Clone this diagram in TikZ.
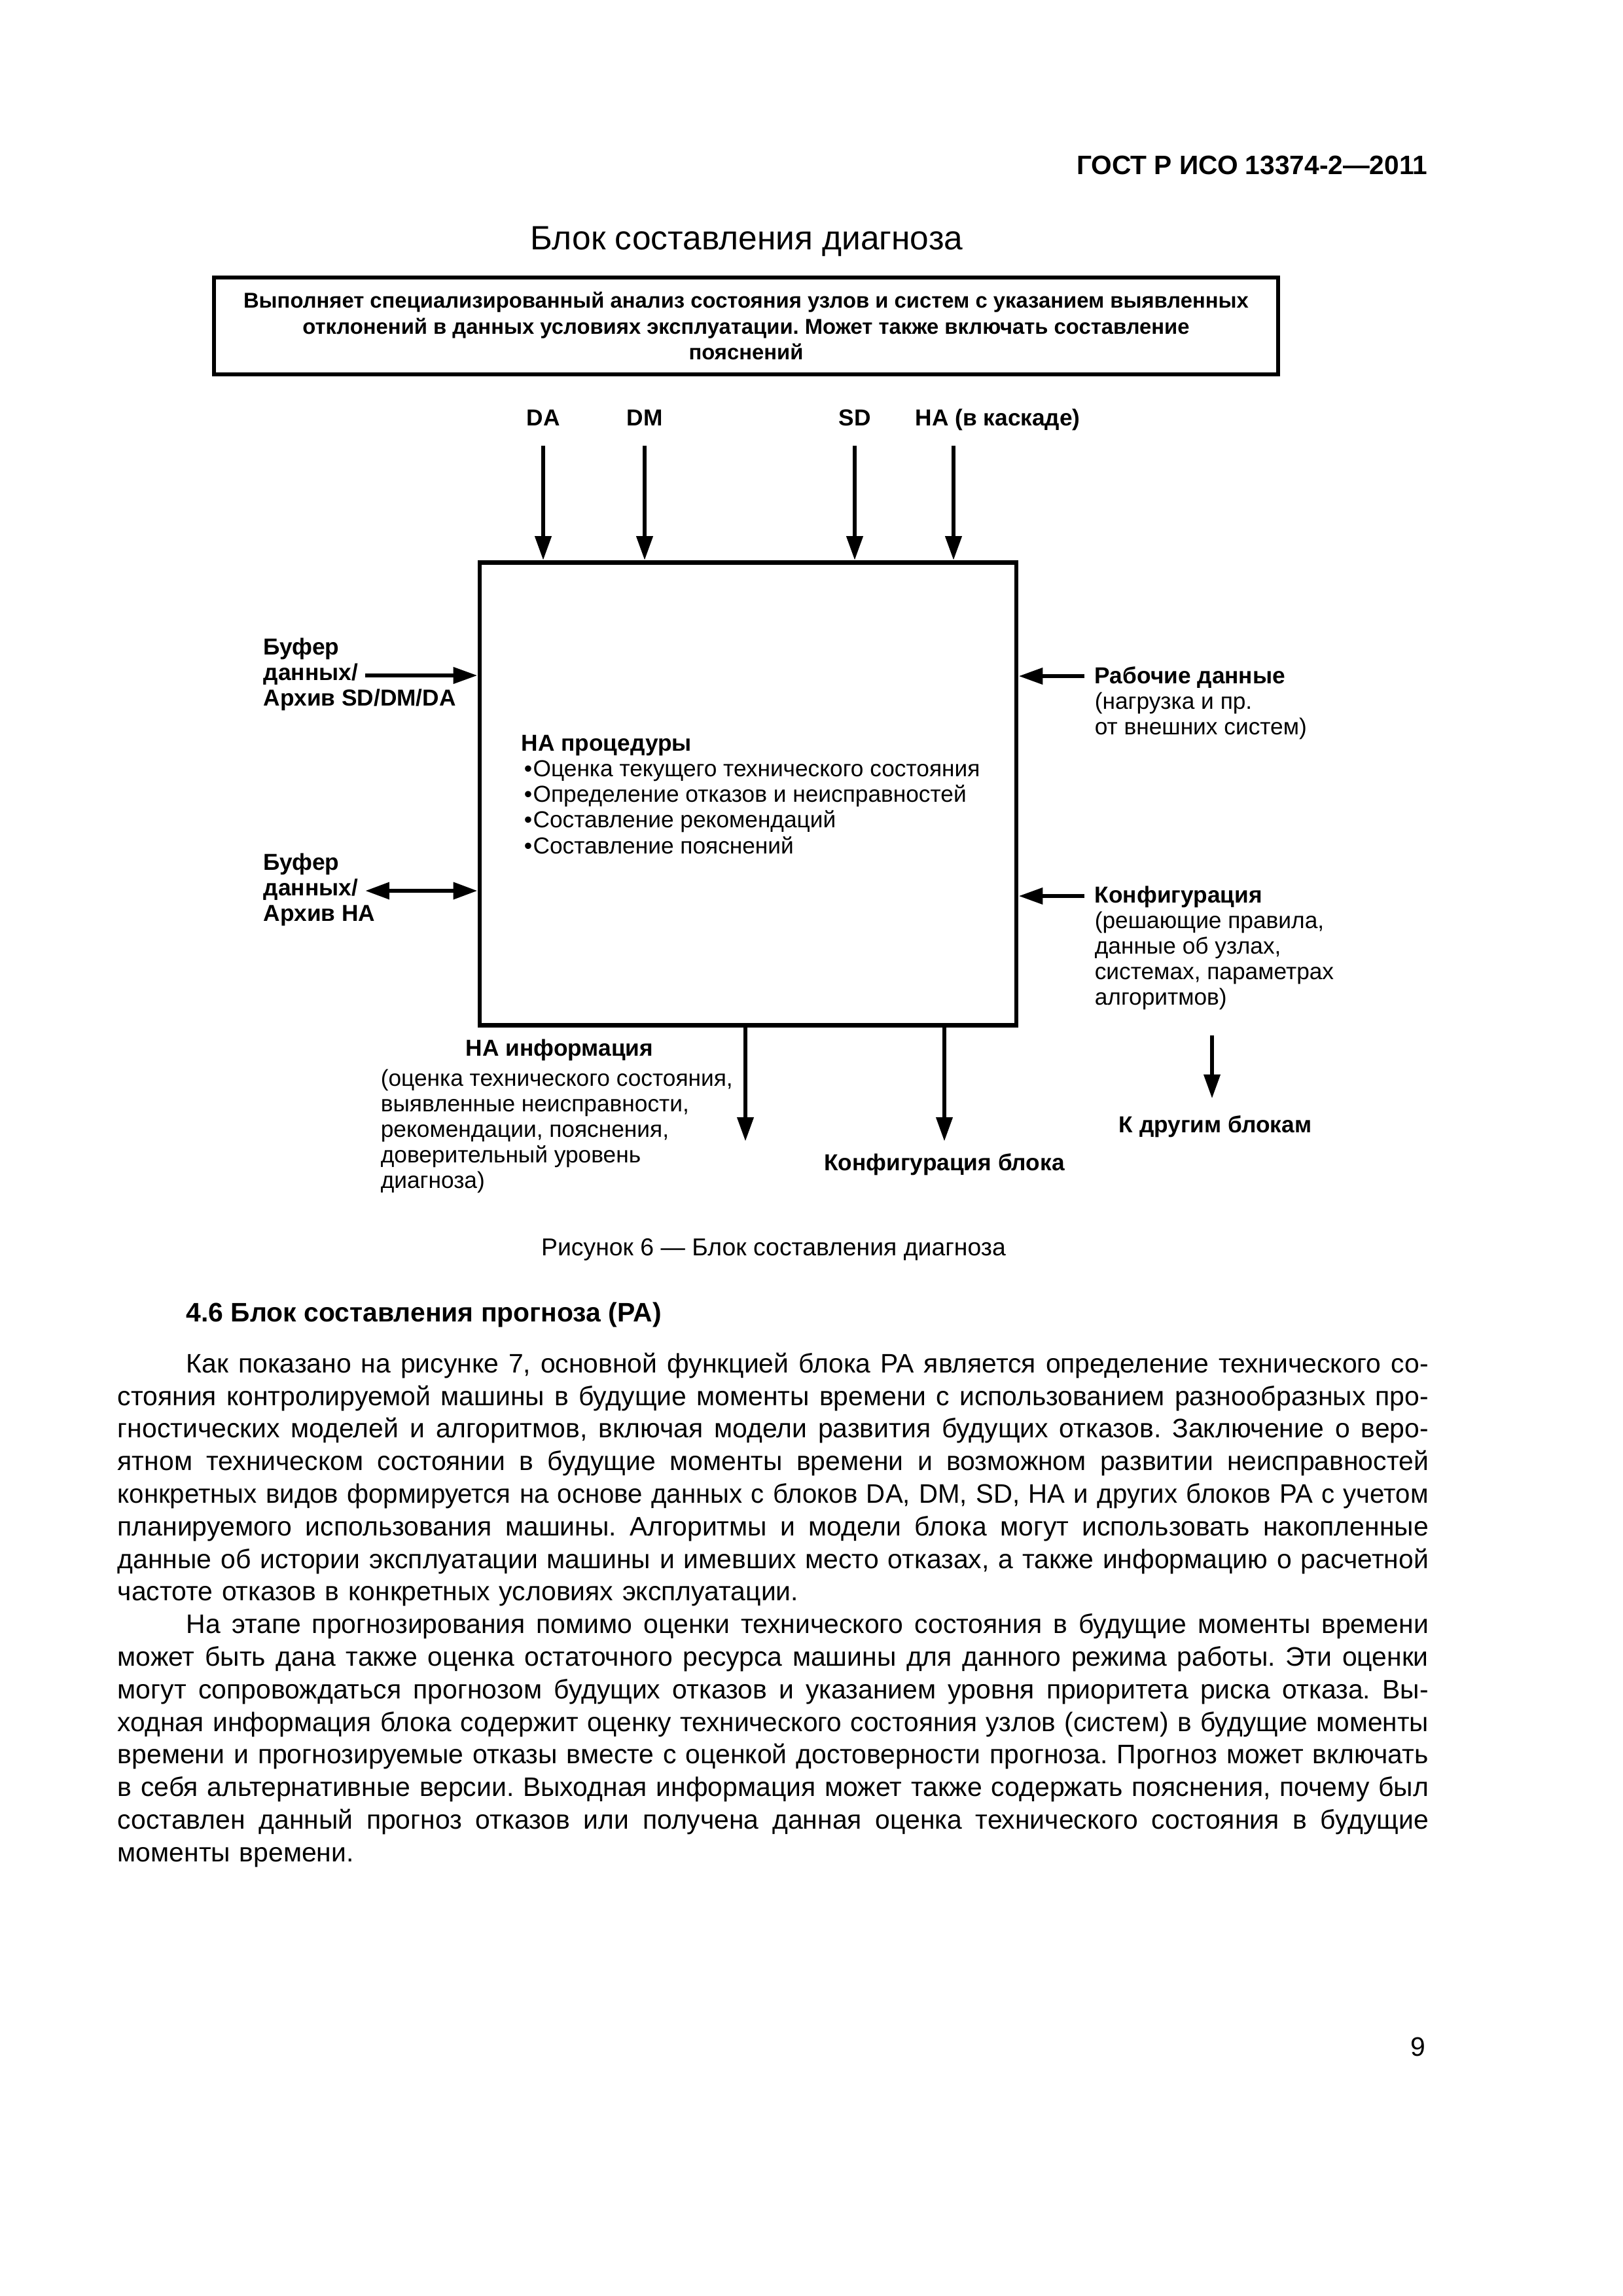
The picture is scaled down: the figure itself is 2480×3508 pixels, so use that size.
\documentclass[tikz,border=0pt]{standalone}
\usepackage{fontspec}
\usepackage{graphicx}
\setmainfont{Liberation Sans}
\usetikzlibrary{arrows.meta, positioning, calc}
\newlength\px
\setlength\px{0.084677mm}
\newsavebox\linebox
% justified line of the page text, squeezed when too long
\newcommand{\fitline}[2]{\sbox\linebox{#2}%
  \ifdim\wd\linebox>#1\resizebox{#1}{\height}{\usebox\linebox}%
  \else\hbox to #1{\spaceskip=\fontdimen2\font plus 1fil\relax #2}\fi}
\newcommand{\jline}[1]{\fitline{\linewidth}{#1}\par}
\newcommand{\jfirst}[1]{\hspace*{105\px}\fitline{\dimexpr\linewidth-105\px\relax}{#1}\par}
\newcommand{\jlast}[1]{#1\par}

\tikzset{
  lbl/.style={inner sep=0pt, font=\fontsize{8.5}{9.4}\selectfont\bfseries},
  note/.style={inner sep=0pt, align=left, font=\fontsize{8.5}{9.4}\selectfont},
  arr/.style={line width=1.6pt, -{Triangle[length=8.9pt, width=5.8pt]}},
  arrboth/.style={line width=1.6pt, {Triangle[length=8.9pt, width=6pt]}-{Triangle[length=8.9pt, width=6pt]}},
  frame/.style={draw, line width=1.6pt},
}

\begin{document}
\frenchspacing
\begin{tikzpicture}[x=0.084677mm, y=-0.084677mm]
  \fill[white] (0,0) rectangle (2480,3508);
  \useasboundingbox (0,0) rectangle (2480,3508);

  % page head
  \node[anchor=base east, inner sep=0pt, font=\fontsize{9.8}{12}\selectfont\bfseries] (gost) at (2182,266) {ГОСТ Р ИСО 13374-2—2011};
  \node[inner sep=0pt, font=\fontsize{12.4}{14}\selectfont] (title) at (1141,369) {Блок составления диагноза};

  % description
  \node[frame, minimum width=1626\px, minimum height=148\px, align=center, font=\fontsize{7.9}{9.6}\selectfont\bfseries] (desc) at (1140,498)
    {Выполняет специализированный анализ состояния узлов и систем с указанием выявленных\\отклонений в данных условиях эксплуатации. Может также включать составление\\пояснений};

  % the block
  \node[frame, minimum width=820\px, minimum height=707\px] (block) at (1143,1213) {};
  \node[note, anchor=west] (proc) at (796,1214)
    {\textbf{НА процедуры}\\\kern1pt•\kern0.3pt Оценка текущего технического состояния\\\kern1pt•\kern0.3pt Определение отказов и неисправностей\\\kern1pt•\kern0.3pt Составление рекомендаций\\\kern1pt•\kern0.3pt Составление пояснений};

  % inputs from above
  \node[lbl, anchor=base] (da) at (830,650) {DA};
  \node[lbl, anchor=base] (dm) at (985,650) {DM};
  \node[lbl, anchor=base] (sd) at (1306,650) {SD};
  \node[lbl, anchor=base west] (hac) at (1398,650) {НА (в каскаде)};
  \path (hac.base west) ++(59,31) coordinate (hacin);
  \draw[arr] (da.base) ++(0,31) -- (da |- block.north);
  \draw[arr] (dm.base) ++(0,31) -- (dm |- block.north);
  \draw[arr] (sd.base) ++(0,31) -- (sd |- block.north);
  \draw[arr] (hacin) -- (hacin |- block.north);

  % left side
  \node[lbl, align=left, anchor=west] (buf1) at (402,1030) {Буфер\\данных/\\Архив SD/DM/DA};
  \node[lbl, align=left, anchor=west] (buf2) at (402,1359) {Буфер\\данных/\\Архив НА};
  \coordinate (buf1out) at (558,1032);
  \coordinate (buf2out) at (558,1361);
  \draw[arr] (buf1out) -- (buf1out -| block.west);
  \draw[arrboth] (buf2out) -- (buf2out -| block.west);

  % right side
  \node[note, anchor=west] (work) at (1672,1074) {\textbf{Рабочие данные}\\(нагрузка и пр.\\от внешних систем)};
  \node[note, anchor=west] (conf) at (1672,1448) {\textbf{Конфигурация}\\(решающие правила,\\данные об узлах,\\системах, параметрах\\алгоритмов)};
  \coordinate (workin) at (1657,1033);
  \coordinate (confin) at (1657,1369);
  \draw[arr] (workin) -- (workin -| block.east);
  \draw[arr] (confin) -- (confin -| block.east);

  % outputs
  \node[lbl] (info) at (855,1604) {НА информация};
  \node[note, anchor=west] (infotext) at (581,1728) {(оценка технического состояния,\\выявленные неисправности,\\рекомендации, пояснения,\\доверительный уровень\\диагноза)};
  \node[lbl] (cfg) at (1443,1779) {Конфигурация блока};
  \node[lbl] (others) at (1857,1721) {К другим блокам};
  \coordinate (infoout) at (1139,1744);
  \coordinate (cfgout) at (1443,1744);
  \coordinate (othtop) at (1852,1582);
  \draw[arr] (block.south -| infoout) -- (infoout);
  \draw[arr] (block.south -| cfgout) -- (cfgout);
  \draw[arr, shorten >=25\px] (othtop) -- (othtop |- others.north);

  \node[inner sep=0pt, font=\fontsize{9}{11}\selectfont] (caption) at (1182,1909) {Рисунок 6 — Блок составления диагноза};

  % text of the page
  \node[anchor=west, inner sep=0pt, font=\fontsize{9.85}{12}\selectfont\bfseries] (sec) at (284,2009) {4.6 Блок составления прогноза (PA)};
  \node[anchor=north west, inner sep=0pt, text width=2003\px, font=\fontsize{9.85}{12}\selectfont] (body) at (179,2066) {%
    \jfirst{Как показано на рисунке 7, основной функцией блока PA является определение технического со-}
    \jline{стояния контролируемой машины в будущие моменты времени с использованием разнообразных про-}
    \jline{гностических моделей и алгоритмов, включая модели развития будущих отказов. Заключение о веро-}
    \jline{ятном техническом состоянии в будущие моменты времени и возможном развитии неисправностей}
    \jline{конкретных видов формируется на основе данных с блоков DA, DM, SD, HA и других блоков PA с учетом}
    \jline{планируемого использования машины. Алгоритмы и модели блока могут использовать накопленные}
    \jline{данные об истории эксплуатации машины и имевших место отказах, а также информацию о расчетной}
    \jlast{частоте отказов в конкретных условиях эксплуатации.}
    \jfirst{На этапе прогнозирования помимо оценки технического состояния в будущие моменты времени}
    \jline{может быть дана также оценка остаточного ресурса машины для данного режима работы. Эти оценки}
    \jline{могут сопровождаться прогнозом будущих отказов и указанием уровня приоритета риска отказа. Вы-}
    \jline{ходная информация блока содержит оценку технического состояния узлов (систем) в будущие моменты}
    \jline{времени и прогнозируемые отказы вместе с оценкой достоверности прогноза. Прогноз может включать}
    \jline{в себя альтернативные версии. Выходная информация может также содержать пояснения, почему был}
    \jline{составлен данный прогноз отказов или получена данная оценка технического состояния в будущие}
    \jlast{моменты времени.}};

  \node[inner sep=0pt, font=\fontsize{9.85}{12}\selectfont] (page) at (2167,3127) {9};
\end{tikzpicture}
\end{document}
